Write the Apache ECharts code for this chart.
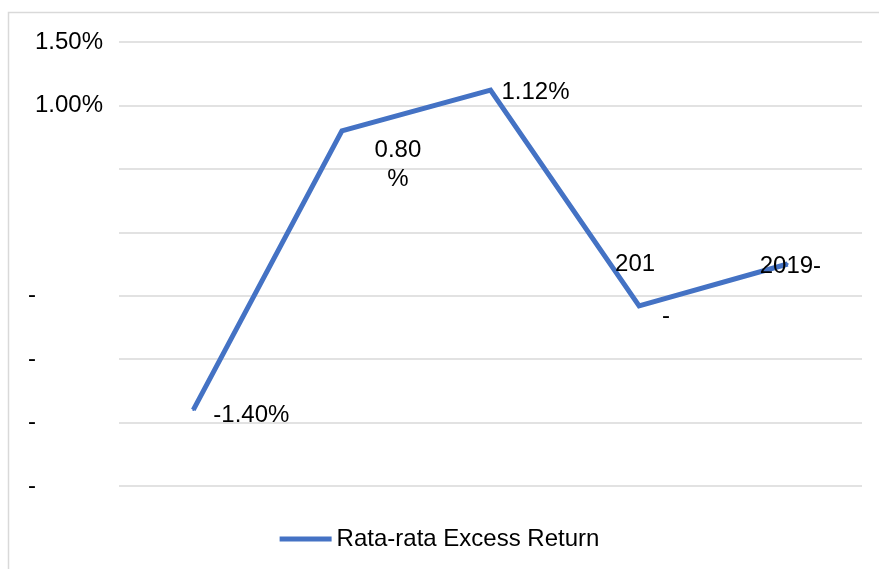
<!DOCTYPE html>
<html>
<head>
<meta charset="utf-8">
<script src="https://cdn.jsdelivr.net/npm/echarts@6/dist/echarts.min.js"></script>
<style>
html,body{margin:0;padding:0;background:#fff;}
#chart{width:879px;height:569px;}
</style>
</head>
<body>
<div id="chart"></div>
<script>
// ---- data ----
var categories = ['2015', '2016', '2017', '2018', '2019'];
var seriesName = 'Rata-rata Excess Return';
var excessReturn = [-1.40, 0.80, 1.12, -0.58, -0.25];
var pointLabels = ['-1.40%', '0.80\n%', '1.12%', '{a|201}\n{a| }\n{b|-}', '2019-'];
var yTickLabels = { '1.5': '1.50%', '1': '1.00%', '0.5': '', '0': '', '-0.5': '-', '-1': '-', '-1.5': '-', '-2': '-' };

// ---- styles ----
var FONT = 'Liberation Sans, Arial, sans-serif';
var FS = 24;
var labelStyles = [
  { align: 'left', verticalAlign: 'middle', offset: [20, 5] },
  { align: 'center', verticalAlign: 'middle', offset: [56, 34], lineHeight: 29 },
  { align: 'left', verticalAlign: 'middle', offset: [11, 2] },
  { align: 'left', verticalAlign: 'middle', offset: [-24, -15] },
  { align: 'left', verticalAlign: 'middle', offset: [-28, 2] }
];

var seriesData = excessReturn.map(function (v, i) {
  var ls = labelStyles[i];
  return {
    value: v,
    label: {
      show: true,
      position: 'inside',
      formatter: pointLabels[i],
      align: ls.align,
      verticalAlign: ls.verticalAlign,
      offset: ls.offset,
      lineHeight: ls.lineHeight || 26,
      color: '#000',
      fontFamily: FONT,
      fontSize: FS,
      rich: {
        a: { fontFamily: FONT, fontSize: FS, color: '#000', lineHeight: 26 },
        b: { fontFamily: FONT, fontSize: FS, color: '#000', lineHeight: 26, padding: [0, 0, 0, 47] }
      }
    }
  };
});

var chart = echarts.init(document.getElementById('chart'), null, { renderer: 'canvas' });
chart.setOption({
  animation: false,
  backgroundColor: '#fff',
  graphic: [{
    type: 'rect',
    silent: true,
    shape: { x: 8.5, y: 12.5, width: 900, height: 600 },
    style: { fill: 'none', stroke: '#d9d9d9', lineWidth: 1.5 },
    z: -1
  }],
  grid: { left: 119, right: 17, top: 42, bottom: 83 },
  legend: {
    data: [seriesName],
    bottom: 13,
    left: 'center',
    icon: 'rect',
    itemWidth: 52,
    itemHeight: 5,
    textStyle: { fontFamily: FONT, fontSize: FS, color: '#000' }
  },
  xAxis: {
    type: 'category',
    data: categories,
    boundaryGap: true,
    axisLine: { show: false },
    axisTick: { show: false },
    axisLabel: { show: false }
  },
  yAxis: {
    type: 'value',
    min: -2,
    max: 1.5,
    interval: 0.5,
    axisLine: { show: false },
    axisTick: { show: false },
    splitLine: { lineStyle: { color: '#d9d9d9', width: 1.5 } },
    axisLabel: {
      margin: 91,
      align: 'left',
      fontFamily: FONT,
      fontSize: FS,
      color: '#000',
      formatter: function (v) {
        var key = String(Math.round(v * 10) / 10);
        var t = yTickLabels[key];
        if (t === undefined || t === '') return '';
        if (t === '-') return t;
        return '{p|' + t + '}';
      },
      rich: {
        p: { fontFamily: FONT, fontSize: FS, color: '#000', padding: [0, 0, 0, 7] }
      }
    }
  },
  series: [{
    name: seriesName,
    type: 'line',
    data: seriesData,
    symbol: 'circle',
    symbolSize: 2,
    showSymbol: true,
    itemStyle: { color: '#4472C4' },
    lineStyle: { color: '#4472C4', width: 5, cap: 'butt', join: 'miter' },
    emphasis: { disabled: true }
  }]
});
</script>
</body>
</html>
